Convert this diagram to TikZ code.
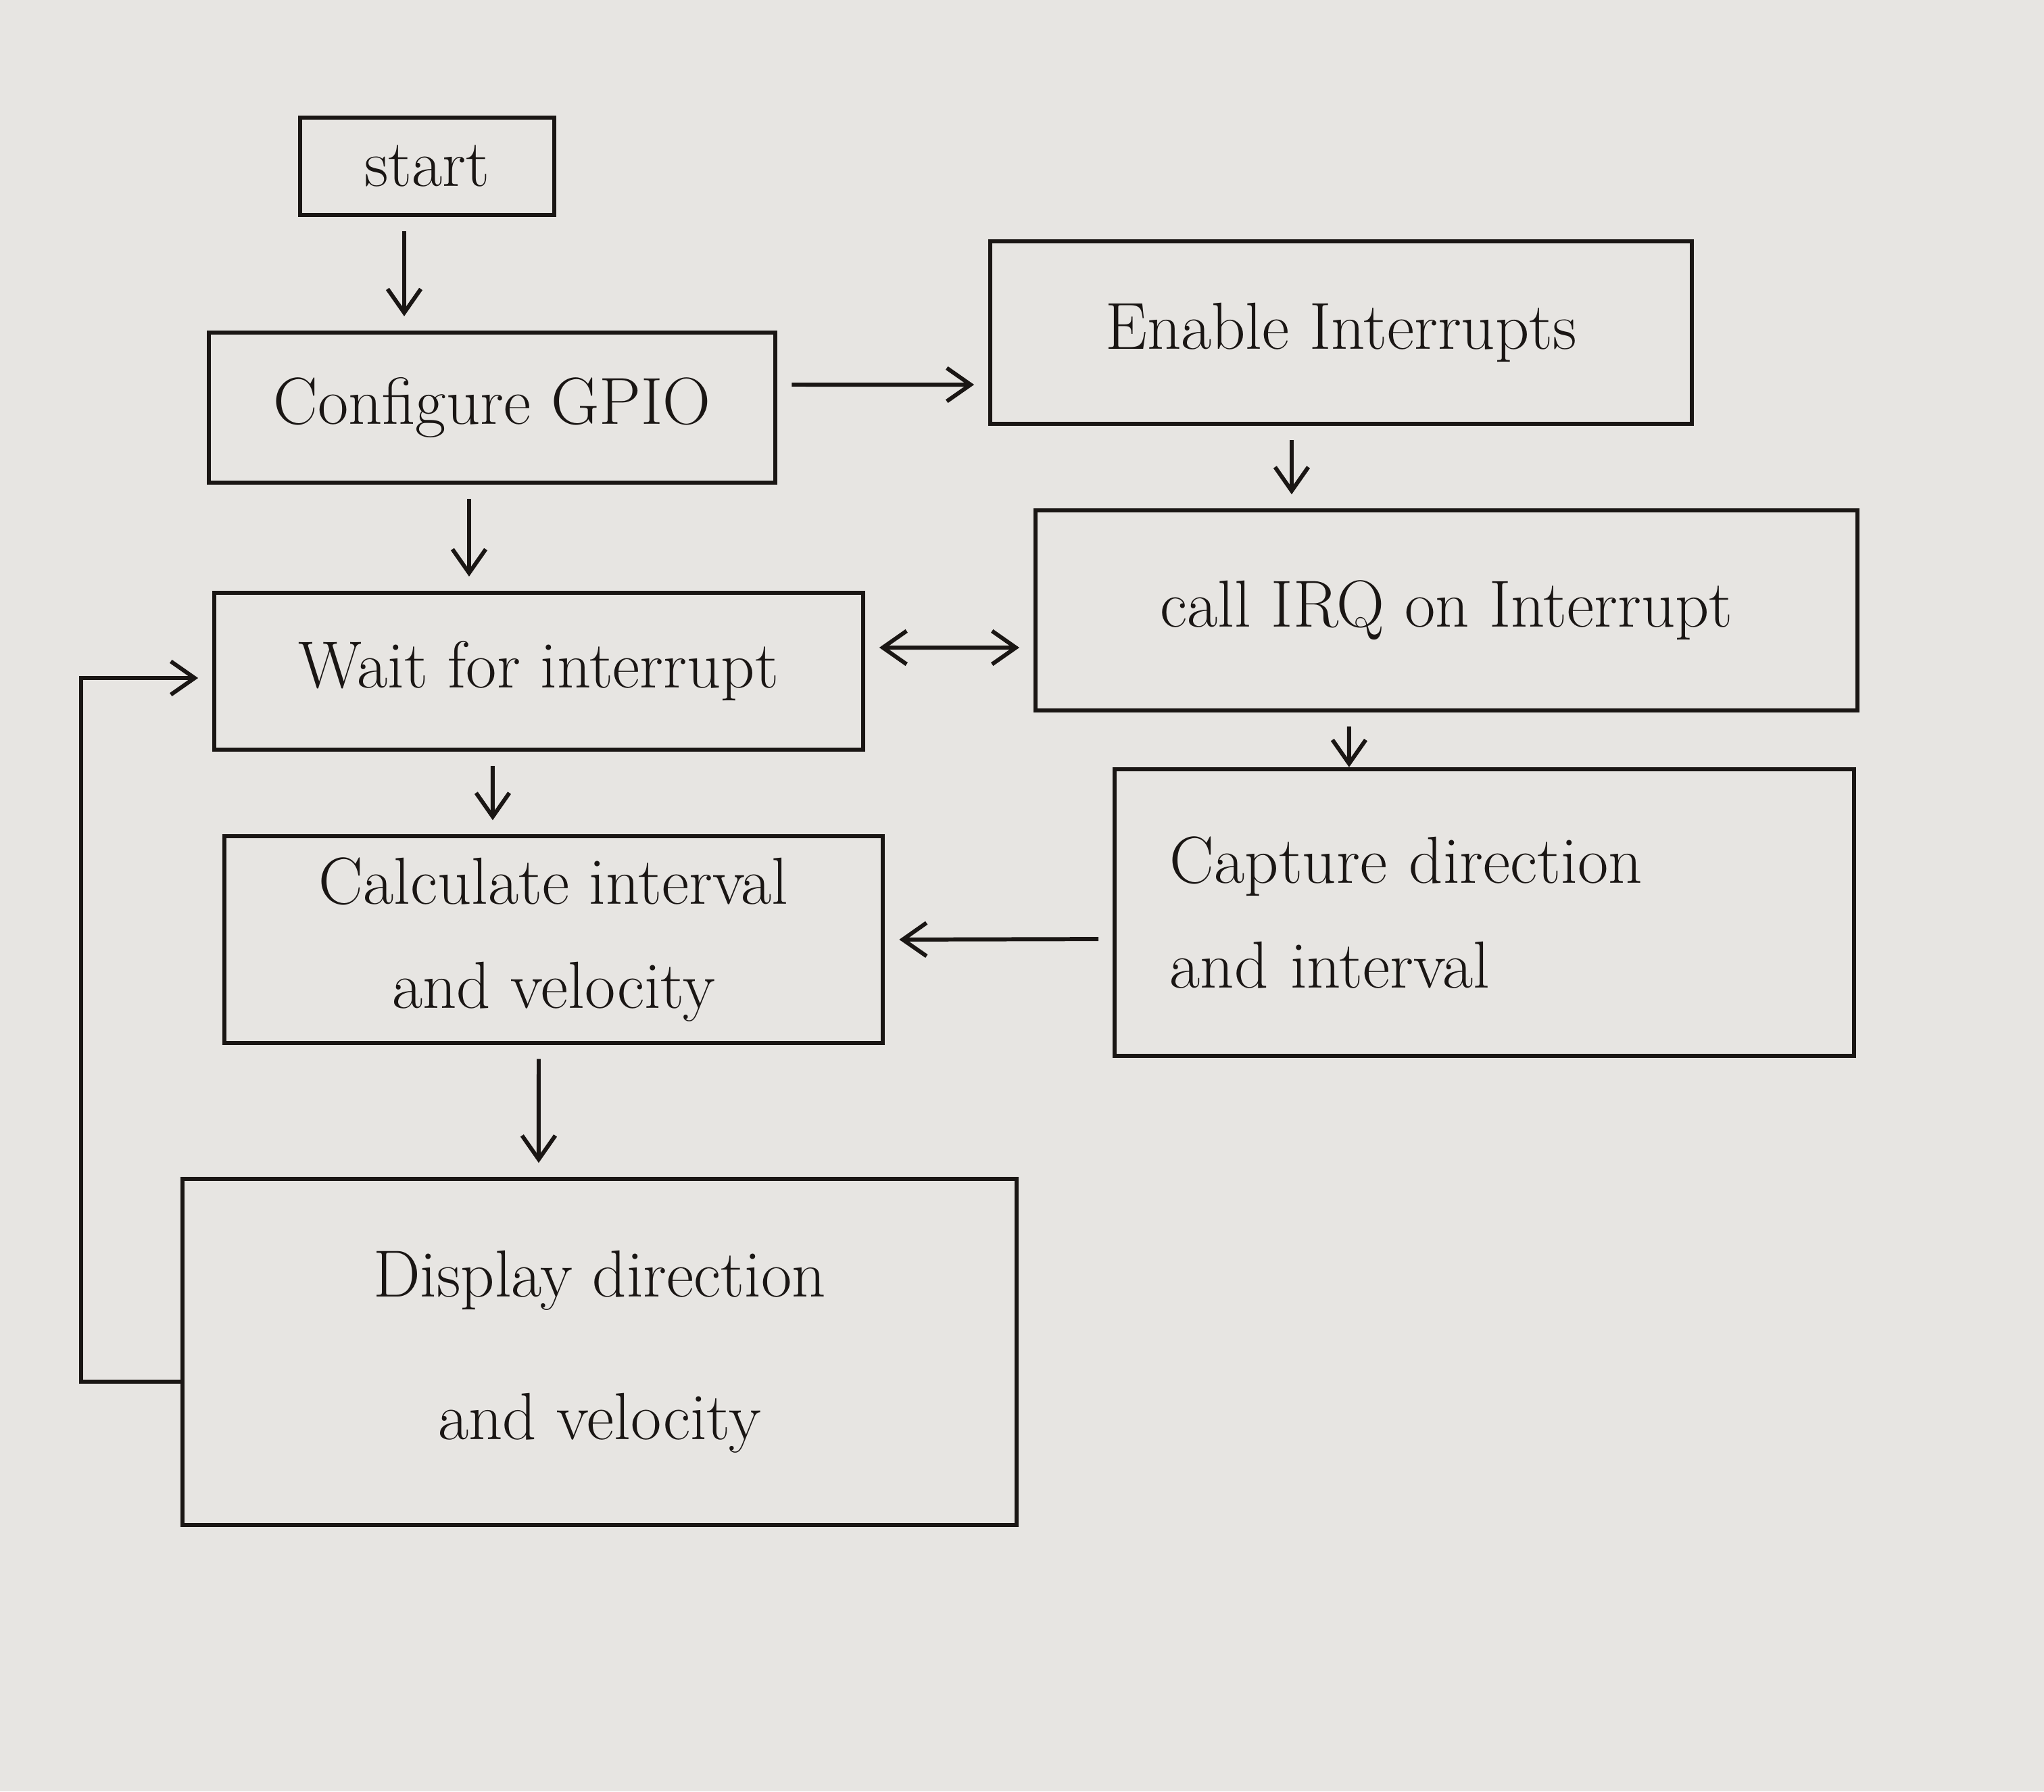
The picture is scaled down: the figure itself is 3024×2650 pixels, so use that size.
\documentclass[tikz,border=0pt]{standalone}
\usetikzlibrary{arrows.meta,positioning,calc}
\definecolor{paper}{RGB}{231,229,226}
\definecolor{ink}{RGB}{26,22,20}
\begin{document}
\begin{tikzpicture}[x=0.01cm,y=-0.01cm,
  box/.style={draw=ink, line width=1.7pt, inner sep=4pt, font=\fontsize{28}{44}\selectfont, text=ink},
  arr/.style={draw=ink, line width=1.7pt, -{Straight Barb[length=10pt,width=14pt,line width=1.7pt]}, shorten <=6pt, shorten >=6pt},
  darr/.style={draw=ink, line width=1.7pt, {Straight Barb[length=10pt,width=14pt,line width=1.7pt]}-{Straight Barb[length=10pt,width=14pt,line width=1.7pt]}, shorten <=6pt, shorten >=6pt}]
\fill[paper] (0,0) rectangle (3024,2650);
\useasboundingbox (0,0) rectangle (3024,2650);

\node[box, minimum width=3.76cm, minimum height=1.44cm] (start) at (632,246) {start};
\node[box, minimum width=8.38cm, minimum height=2.22cm] (config) at (728,603) {Configure GPIO};
\node[box, minimum width=10.37cm, minimum height=2.70cm] (enable) at (1984,492) {Enable Interrupts};
\node[box, minimum width=9.59cm, minimum height=2.32cm] (wait) at (797,993) {Wait for interrupt};
\node[box, minimum width=12.15cm, minimum height=2.95cm] (irq) at (2140,903) {call IRQ on Interrupt};
\node[box, minimum width=9.74cm, minimum height=3.05cm, align=center] (calc) at (819,1390) {Calculate interval\\and velocity};
\node[box, minimum width=10.93cm, minimum height=4.24cm, align=left, text width=9.3cm] (capture) at (2196,1350) {Capture direction\\and interval};
\node[box, minimum width=12.34cm, minimum height=5.11cm, align=center, font=\fontsize{28}{60}\selectfont] (display) at (887,2000) {Display direction\\and velocity};

\coordinate (loopx) at (120,1003);

\draw[arr] ([xshift=-0.34cm]start.south) -- ([xshift=-0.34cm]start.south |- config.north);
\draw[arr] ([yshift=0.34cm]config.east) -- ([yshift=-0.77cm]enable.west);
\draw[arr] ([xshift=-0.73cm]enable.south) -- ([xshift=-0.73cm]enable.south |- irq.north);
\draw[arr] ([xshift=-0.34cm]config.south) -- ([xshift=-0.34cm]config.south |- wait.north);
\draw[darr] ([yshift=0.35cm]wait.east) -- ([yshift=-0.55cm]irq.west);
\draw[arr, shorten >=0pt] ([xshift=-1.44cm]irq.south) -- ([xshift=-2cm]capture.north);
\draw[arr] ([yshift=-0.39cm]capture.west) -- (calc.east);
\draw[arr] ([xshift=-0.68cm]wait.south) -- ([xshift=-0.9cm]calc.north);
\draw[arr] ([xshift=-0.22cm]calc.south) -- ([xshift=-0.9cm]display.north);
\draw[arr, shorten <=0pt] ([yshift=-0.44cm]display.west) -| (loopx) -- (loopx -| wait.west);
\end{tikzpicture}
\end{document}
